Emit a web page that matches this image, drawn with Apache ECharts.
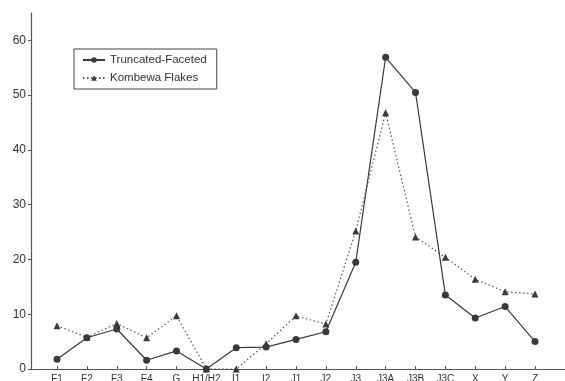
<!DOCTYPE html>
<html>
<head>
<meta charset="utf-8">
<script src="https://cdn.jsdelivr.net/npm/echarts@6/dist/echarts.min.js"></script>
<style>
  html, body { margin: 0; padding: 0; background: #fff; }
  #chart { width: 565px; height: 381px; }
</style>
</head>
<body>
<div id="chart"></div>
<script>
// Layers of the sequence
const categories = ['F1', 'F2', 'F3', 'F4', 'G', 'H1/H2', 'I1', 'I2', 'J1', 'J2', 'J3', 'J3A', 'J3B', 'J3C', 'X', 'Y', 'Z'];

// Percentages per layer
const truncatedFaceted = [1.8, 5.7, 7.3, 1.6, 3.3, 0, 3.9, 4.0, 5.4, 6.8, 19.5, 56.9, 50.5, 13.5, 9.3, 11.4, 5.0];
const kombewaFlakes   = [7.9, 5.8, 8.3, 5.7, 9.7, 0, 0, 4.6, 9.7, 8.2, 25.2, 46.8, 24.1, 20.4, 16.4, 14.1, 13.7];

const seriesNames = ['Truncated-Faceted', 'Kombewa Flakes'];
const yTicks = { min: 0, max: 65, step: 10 };

const ink = '#3a3a3a';
const font = 'Liberation Sans, Arial, sans-serif';

const chart = echarts.init(document.getElementById('chart'));
chart.setOption({
  backgroundColor: '#fff',
  animation: false,
  textStyle: { fontFamily: font },
  // frame grid carries the axis lines; plot grid carries the data
  grid: [
    { left: 31, right: 0, top: 13, bottom: 12, containLabel: false, outerBoundsMode: 'none' },
    { left: 57, right: 30, top: 13, bottom: 12, containLabel: false, outerBoundsMode: 'none' }
  ],
  legend: {
    orient: 'vertical',
    left: 74, top: 49,
    padding: [5, 10, 5, 8],
    itemGap: 6,
    itemWidth: 22,
    itemHeight: 7,
    borderColor: '#444',
    borderWidth: 1,
    textStyle: { fontSize: 11.5, color: '#333', fontFamily: font },
    data: seriesNames
  },
  xAxis: [
    {
      gridIndex: 0, type: 'value', min: 0, max: 1,
      axisLine: { show: true, lineStyle: { color: '#555', width: 1.2 } },
      axisTick: { show: false }, axisLabel: { show: false }, splitLine: { show: false }
    },
    {
      gridIndex: 1, type: 'category', data: categories, boundaryGap: false,
      axisLine: { show: false },
      axisTick: { show: true, inside: true, length: 3, alignWithLabel: true, lineStyle: { color: '#555' } },
      axisLabel: { color: '#333', fontSize: 10, margin: 5, interval: 0, fontFamily: font },
      splitLine: { show: false }
    }
  ],
  yAxis: [
    {
      gridIndex: 0, type: 'value', min: yTicks.min, max: yTicks.max, interval: yTicks.step,
      axisLine: { show: true, lineStyle: { color: '#555', width: 1.2 } },
      axisTick: { show: true, length: 3, lineStyle: { color: '#555' } },
      axisLabel: { color: '#333', fontSize: 12, margin: 5, fontFamily: font, showMaxLabel: false,
        formatter: v => (v > 60 ? '' : v) },
      splitLine: { show: false }
    },
    {
      gridIndex: 1, type: 'value', min: yTicks.min, max: yTicks.max,
      show: false, splitLine: { show: false }
    }
  ],
  series: [
    {
      name: seriesNames[0], type: 'line', xAxisIndex: 1, yAxisIndex: 1,
      data: truncatedFaceted,
      symbol: 'circle', symbolSize: 7,
      itemStyle: { color: ink },
      lineStyle: { color: ink, width: 1.2 }
    },
    {
      name: seriesNames[1], type: 'line', xAxisIndex: 1, yAxisIndex: 1,
      data: kombewaFlakes,
      symbol: 'triangle', symbolSize: 7,
      itemStyle: { color: ink },
      lineStyle: { color: '#555', width: 1.2, type: [1.5, 2.5] }
    }
  ]
});
</script>
</body>
</html>
